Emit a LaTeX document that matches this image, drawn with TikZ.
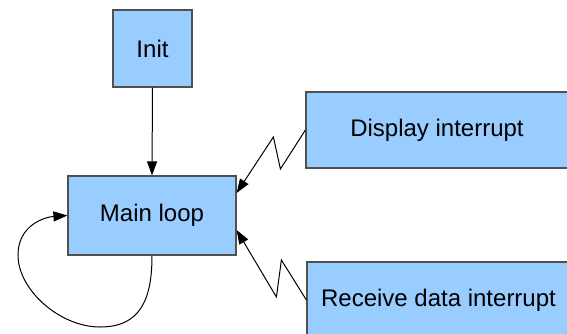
\documentclass[tikz,border=0pt]{standalone}
\usepackage{fontspec}
\setmainfont{Liberation Sans}
\usepackage{tikz}
\usetikzlibrary{arrows.meta, positioning}

\definecolor{boxFill}{HTML}{99CCFF}
\definecolor{boxLine}{HTML}{505050}

\begin{document}
\begin{tikzpicture}[x=0.5pt, y=-0.5pt,
    blockNode/.style={draw=boxLine, fill=boxFill, line width=0.6pt, inner sep=0pt,
        font=\fontsize{12}{14}\selectfont},
    flowArrow/.style={-{Triangle[length=7pt, width=5pt]}, line width=0.5pt}]
\useasboundingbox (0,0) rectangle (567,333);
\clip (0,0) rectangle (567,333);

% Draw blocks
\node[blockNode, minimum width=39.5pt, minimum height=38.5pt] (init) at (152.5,48.5) {Init};
\node[blockNode, minimum width=84pt, minimum height=39.5pt] (mainLoop) at (152,215.5) {Main loop};
\node[blockNode, minimum width=131pt, minimum height=38pt] (dispInt) at (437,130) {Display interrupt};
\node[blockNode, minimum width=131.5pt, minimum height=38pt] (recvInt) at (438.5,300) {Receive data interrupt};

% Draw start arrow
\draw[flowArrow] (init.south) -- (mainLoop.north);

% Draw loop back
\draw[flowArrow] (mainLoop.south) .. controls (152,300) and (140,327) .. (100,327)
    .. controls (60,327) and (18,290) .. (18,255)
    .. controls (18,225) and (45,217) .. (mainLoop.west);

% Draw interrupt arrows
\draw[flowArrow] (dispInt.west) -- ++(-25,39) -- ++(-7,-32) -- ([yshift=11.25pt]mainLoop.east);
\draw[flowArrow] (recvInt.west) -- ++(-25,-40) -- ++(-5,37) -- ([yshift=-7.25pt]mainLoop.east);
\end{tikzpicture}
\end{document}
